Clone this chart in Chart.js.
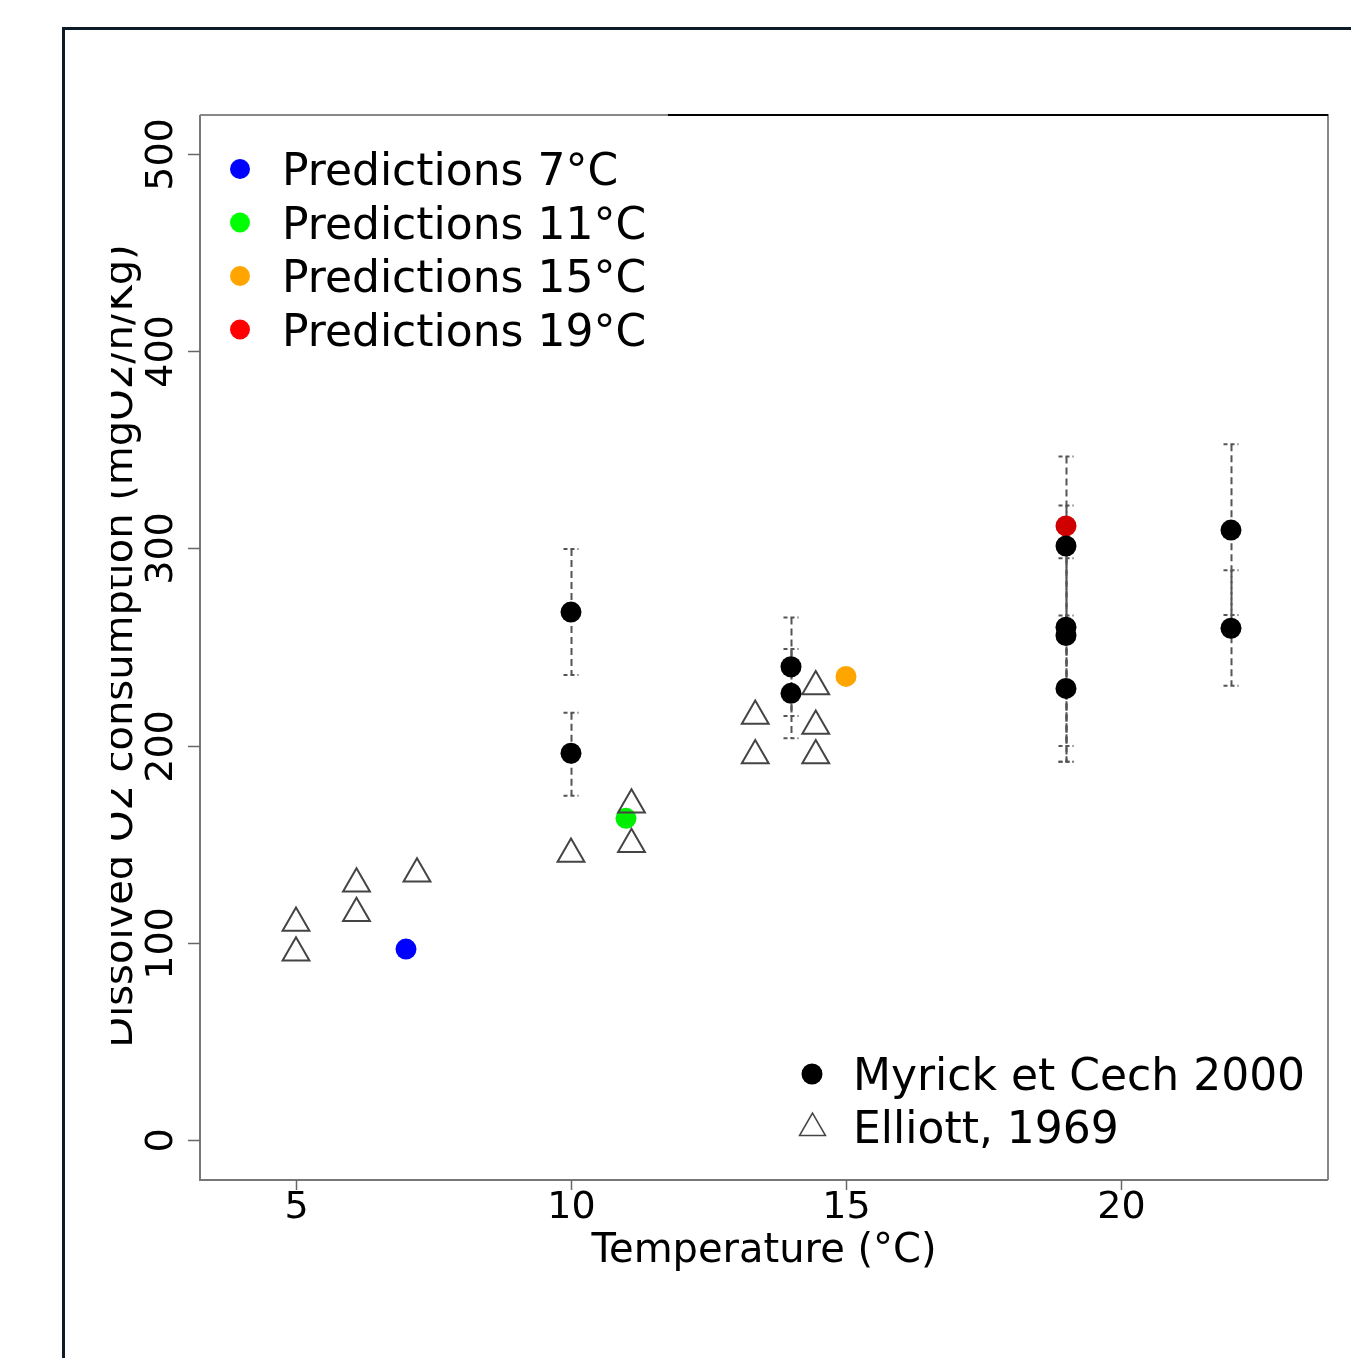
<!DOCTYPE html>
<html>
<head>
<meta charset="utf-8">
<script src="https://cdn.jsdelivr.net/npm/chart.js@4.4.1/dist/chart.umd.min.js"></script>
<style>
  html, body { margin: 0; padding: 0; background: #fff; }
  #wrap { width: 1351px; height: 1358px; position: relative; }
</style>
</head>
<body>
<div id="wrap"><canvas id="myChart"></canvas></div>
<script>
// Elliott, 1969 (open triangles)
const elliottT = [5, 5, 6.1, 6.1, 7.2, 10, 11.1, 11.1, 13.35, 13.35, 14.45, 14.45, 14.45];
const elliottO2 = [110, 95, 130, 115, 135, 145, 170, 150, 215, 195, 230, 210, 195];

// Myrick et Cech 2000 (black dots, with error bars)
const myrickT = [10, 10, 14, 14, 19, 19, 19, 19, 22, 22];
const myrickO2 = [267.7, 196.1, 240, 226.5, 301.2, 260, 255.8, 229, 309.3, 259.5];
const myrickLow = [235.8, 174.6, 215, 203.7, 256, 199.8, 191.8, 191.8, 266.2, 230.4];
const myrickHigh = [299.7, 216.7, 265, 249, 346.6, 321.7, 295, 266, 352.8, 288.9];

// model predictions
const predT = [7, 11, 15, 19];
const predO2 = [96.8, 163.1, 235.1, 311.4];
const predLabels = ["Predictions 7°C", "Predictions 11°C", "Predictions 15°C", "Predictions 19°C"];
const predColors = ["#0000ff", "#00ee00", "#ffa500", "#d00000"];
const predLegendColors = ["#0000ff", "#00ff00", "#ffa500", "#ff0000"];

const xTicks = [5, 10, 15, 20];
const yTicks = [0, 100, 200, 300, 400, 500];
const xTitle = "Temperature (°C)";
const yTitle = "Dissolved O2 consumption (mgO2/h/Kg)";

const FONT = "'DejaVu Sans', sans-serif";

function drawTriangle(ctx, x, y, r) {
  ctx.beginPath();
  for (let k = 0; k < 3; k++) {
    const a = k * 2 * Math.PI / 3;
    const px = x + Math.sin(a) * r, py = y - Math.cos(a) * r;
    if (k === 0) ctx.moveTo(px, py); else ctx.lineTo(px, py);
  }
  ctx.closePath();
  ctx.stroke();
}

const decor = {
  id: "decor",
  beforeDatasetsDraw(chart) {
    // error bars under the dots
    const { ctx, scales: { x, y } } = chart;
    ctx.save();
    ctx.strokeStyle = "#555";
    ctx.lineWidth = 2;
    myrickT.forEach((t, i) => {
      const px = Math.round(x.getPixelForValue(t)) + 0.5;
      const top = y.getPixelForValue(myrickHigh[i]);
      const bot = y.getPixelForValue(myrickLow[i]);
      ctx.setLineDash([7, 4]);
      ctx.beginPath(); ctx.moveTo(px, top); ctx.lineTo(px, bot); ctx.stroke();
      ctx.setLineDash([4, 3]);
      [top, bot].forEach(py => {
        ctx.beginPath(); ctx.moveTo(px - 8, py); ctx.lineTo(px + 7, py); ctx.stroke();
      });
    });
    ctx.restore();
  },
  afterDraw(chart) {
    const { ctx, chartArea: a, scales: { x, y } } = chart;
    ctx.save();

    // outer figure frame
    ctx.strokeStyle = "#0d1b26";
    ctx.lineWidth = 3;
    ctx.beginPath();
    ctx.moveTo(63.5, 1358); ctx.lineTo(63.5, 28.5); ctx.lineTo(1351, 28.5);
    ctx.stroke();

    // plot box
    ctx.lineWidth = 2;
    ctx.strokeStyle = "#777";
    ctx.beginPath();
    ctx.moveTo(a.left, a.top); ctx.lineTo(a.left, a.bottom); ctx.lineTo(a.right, a.bottom);
    ctx.stroke();
    ctx.strokeStyle = "#888";
    ctx.beginPath();
    ctx.moveTo(a.right, a.bottom); ctx.lineTo(a.right, a.top); ctx.lineTo(a.left, a.top);
    ctx.stroke();
    ctx.strokeStyle = "#000";
    ctx.beginPath();
    ctx.moveTo(668, a.top); ctx.lineTo(a.right, a.top);
    ctx.stroke();

    // ticks and tick labels
    ctx.fillStyle = "#000";
    ctx.font = "38px " + FONT;
    ctx.lineWidth = 1.5;
    ctx.strokeStyle = "#666";
    xTicks.forEach(v => {
      const px = Math.round(x.getPixelForValue(v)) + 0.5;
      ctx.beginPath(); ctx.moveTo(px, a.bottom); ctx.lineTo(px, a.bottom + 10); ctx.stroke();
      ctx.textAlign = "center";
      ctx.textBaseline = "alphabetic";
      ctx.fillText(String(v), px, 1218);
    });
    yTicks.forEach(v => {
      const py = Math.round(y.getPixelForValue(v)) + 0.5;
      ctx.beginPath(); ctx.moveTo(a.left - 12, py); ctx.lineTo(a.left, py); ctx.stroke();
      ctx.save();
      ctx.translate(172, py);
      ctx.rotate(-Math.PI / 2);
      ctx.textAlign = "center";
      ctx.textBaseline = "alphabetic";
      ctx.fillText(String(v), 0, 0);
      ctx.restore();
    });

    // axis titles
    ctx.font = "40px " + FONT;
    ctx.textAlign = "center";
    ctx.textBaseline = "alphabetic";
    ctx.fillText(xTitle, (a.left + a.right) / 2, 1262);
    ctx.save();
    ctx.beginPath();
    ctx.rect(111, 0, 89, 1358);
    ctx.clip();
    ctx.translate(132, 646);
    ctx.rotate(-Math.PI / 2);
    ctx.fillText(yTitle, 0, 0);
    ctx.restore();

    // predictions legend (top left)
    ctx.font = "44px " + FONT;
    ctx.textAlign = "left";
    predLabels.forEach((lab, i) => {
      const base = 185 + i * 53.5;
      ctx.fillStyle = predLegendColors[i];
      ctx.beginPath(); ctx.arc(240, base - 16, 10, 0, Math.PI * 2); ctx.fill();
      ctx.fillStyle = "#000";
      ctx.fillText(lab, 282, base);
    });

    // data source legend (bottom right)
    ctx.fillStyle = "#000";
    ctx.beginPath(); ctx.arc(812, 1074, 10.5, 0, Math.PI * 2); ctx.fill();
    ctx.fillText("Myrick et Cech 2000", 853, 1090);
    ctx.strokeStyle = "#444";
    ctx.lineWidth = 1.5;
    drawTriangle(ctx, 812.5, 1128, 15);
    ctx.fillText("Elliott, 1969", 853, 1143);

    ctx.restore();
  }
};

const ctx = document.getElementById("myChart").getContext("2d");

const data = {
  datasets: [
    {
      label: "Myrick et Cech 2000",
      data: myrickT.map((t, i) => ({ x: t, y: myrickO2[i] })),
      pointStyle: "circle",
      pointRadius: 10.5,
      backgroundColor: "#000",
      borderWidth: 0,
      order: 0,
    },
    {
      label: "Elliott, 1969",
      data: elliottT.map((t, i) => ({ x: t, y: elliottO2[i] })),
      pointStyle: "triangle",
      pointRadius: 15.5,
      backgroundColor: "rgba(0,0,0,0)",
      borderColor: "#444",
      borderWidth: 2,
      order: 1,
    },
    {
      label: "Predictions",
      data: predT.map((t, i) => ({ x: t, y: predO2[i] })),
      pointStyle: "circle",
      pointRadius: 10.5,
      backgroundColor: predColors,
      borderWidth: 0,
      order: 2,
    },
  ],
};

const config = {
  type: "scatter",
  data: data,
  options: {
    responsive: true,
    maintainAspectRatio: false,
    animation: false,
    events: [],
    layout: { padding: { top: 115, right: 23, left: 0, bottom: 0 } },
    plugins: {
      legend: { display: false },
      tooltip: { enabled: false },
    },
    scales: {
      x: {
        type: "linear",
        min: 3.2545,
        max: 23.764,
        grid: { display: false },
        border: { display: false },
        ticks: { display: false },
        afterFit: (s) => { s.height = 178; },
      },
      y: {
        type: "linear",
        min: -20.28,
        max: 519.78,
        grid: { display: false },
        border: { display: false },
        ticks: { display: false },
        afterFit: (s) => { s.width = 200; },
      },
    },
  },
  plugins: [decor],
};

const myChart = new Chart(ctx, config);
</script>
</body>
</html>
